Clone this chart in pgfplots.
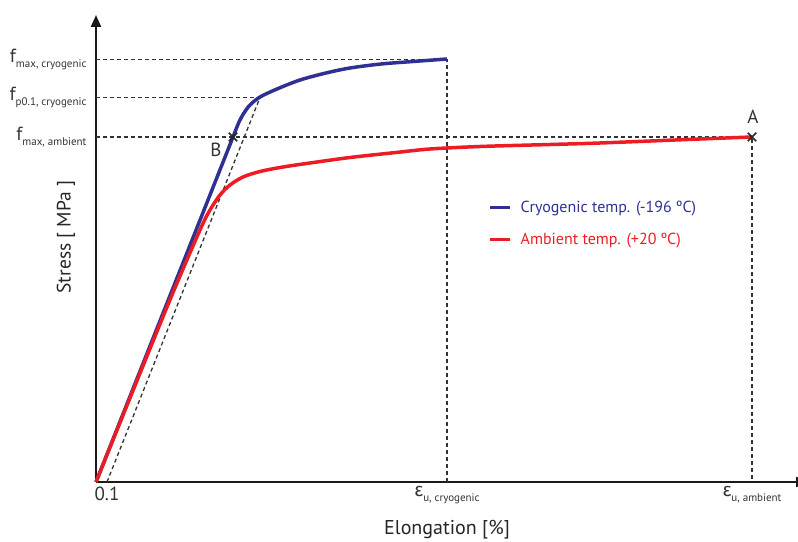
\documentclass[border=0pt]{standalone}
\usepackage{pgfplots}
\pgfplotsset{compat=1.18}
\usetikzlibrary{arrows.meta}
\usepackage{fontspec}
\setmainfont{PT Sans}
\newfontfamily\grk{Fira Sans}
\definecolor{cblue}{RGB}{46,49,146}
\definecolor{cred}{RGB}{237,28,36}
\newcommand\sub[1]{\raisebox{-0.45ex}{\fontsize{11bp}{13bp}\selectfont #1}}
\begin{document}
\begin{tikzpicture}
\path[use as bounding box] (0,0) rectangle (798bp,542bp);
\begin{axis}[
  at={(96bp,60bp)}, anchor=south west,
  scale only axis, width=712bp, height=467bp,
  xmin=0, xmax=712, ymin=0, ymax=467,
  clip=false,
  axis lines=left,
  axis line style={line width=2.2bp, black!90, -{Triangle[length=12bp,width=10bp]}},
  major tick length=0pt,
  xtick={11,351,656},
  xticklabels={0.1, {{\grk ε}\sub{u, cryogenic}}, {{\grk ε}\sub{u, ambient}}},
  ytick={345,384.5,422.5},
  yticklabels={f\sub{max, ambient}, f\sub{p0.1, cryogenic}, f\sub{max, cryogenic}},
  ticklabel style={font=\fontsize{19bp}{21bp}\selectfont, text=black!80},
  yticklabel style={xshift=-6bp},
  xticklabel style={yshift=-1bp},
  xlabel={Elongation [\%]},
  ylabel={Stress [ MPa ]},
  xlabel style={font=\fontsize{20bp}{22bp}\selectfont, text=black!85, at={(rel axis cs:0.493,-0.1028)}, anchor=center},
  ylabel style={font=\fontsize{19.5bp}{22bp}\selectfont, text=black!85, at={(rel axis cs:-0.0421,0.5246)}, anchor=center, rotate=0},
  legend style={draw=none, fill=none, at={(axis cs:390,285)}, anchor=north west,
    font=\fontsize{16bp}{18bp}\selectfont, /tikz/row sep=15bp, inner sep=2bp},
  legend cell align=left,
  legend image code/.code={\draw[#1, line width=3.5bp] (0bp,0bp) -- (20bp,0bp); \path (27bp,0bp);},
]
% dashed guide lines
\addplot[forget plot, black!80, line width=1.3bp, dash pattern=on 4bp off 3bp] coordinates {(0,422.5) (351,422.5) (351,0)};
\addplot[forget plot, black!80, line width=1.3bp, dash pattern=on 4bp off 3bp] coordinates {(0,384.5) (164,384.5)};
\addplot[forget plot, black!80, line width=1.3bp, dash pattern=on 4bp off 3bp] coordinates {(0,345) (656,345) (656,0)};
\addplot[forget plot, black!80, line width=1.3bp, dash pattern=on 4bp off 3bp] coordinates {(11,0) (164,384.5)};
% blue curve
\addplot[cblue, line width=3.5bp, smooth, tension=0.5] coordinates {
 (0,0) (112,282) (137,345) (143,360) (148,369) (154,377) (164,385) (181,393) (204,402) (230,409) (254,414) (285,418) (317,420.5) (351,423)};
\addlegendentry{\textcolor{cblue}{Cryogenic temp. (-196 ºC)}}
% red curve
\addplot[cred, line width=3.5bp, smooth, tension=0.5] coordinates {
 (0,0) (71,175) (104,252) (114,272) (124,287) (134,297) (147,305) (164,310.5) (187,315) (214,319) (254,324.5) (300,329.5) (334,333) (384,335.5) (454,337.5) (504,339) (604,343) (656,345)};
\addlegendentry{\textcolor{cred}{Ambient temp. (+20 ºC)}}
% markers
\addplot[forget plot, only marks, mark=x, mark size=6bp, line width=1.6bp, black!85] coordinates {(137,345) (656,345)};
\node[font=\fontsize{19bp}{21bp}\selectfont, text=black!80] at (axis cs:120,332) {B};
\node[font=\fontsize{19bp}{21bp}\selectfont, text=black!80] at (axis cs:657,365) {A};
\end{axis}
\end{tikzpicture}
\end{document}
